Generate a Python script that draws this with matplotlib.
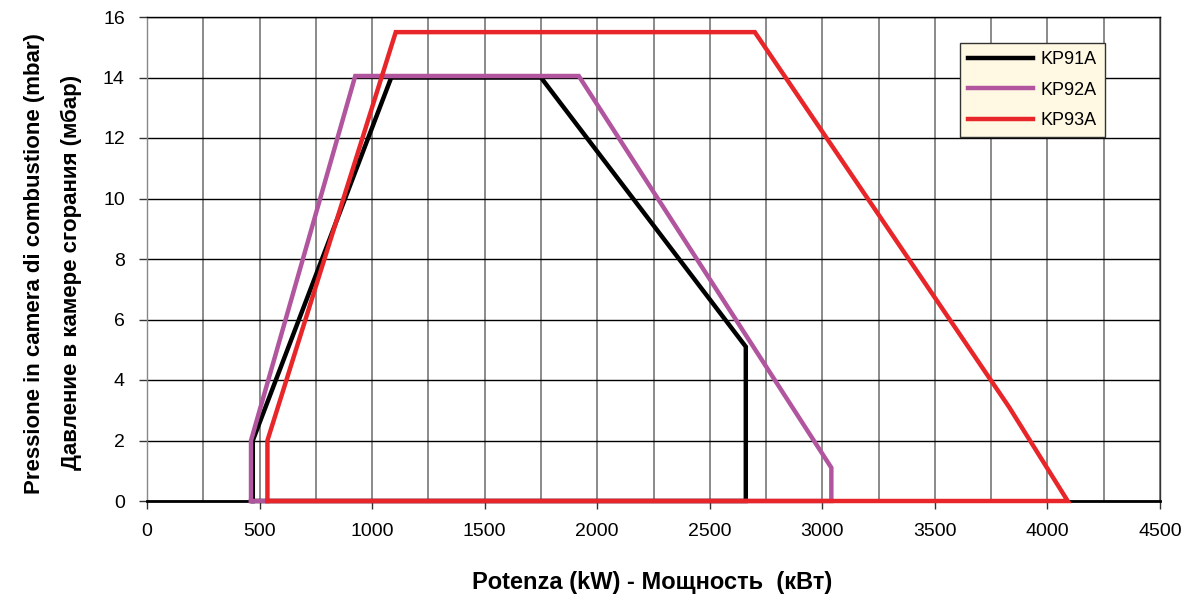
import matplotlib
matplotlib.use("Agg")
import matplotlib.pyplot as plt
from matplotlib.ticker import MultipleLocator

plt.rcParams['font.family'] = ['Liberation Sans', 'DejaVu Sans']

# Data
kp91a_x = [470, 470, 1085, 1750, 2660, 2660, 470]
kp91a_y = [0, 2, 14, 14, 5.1, 0, 0]
kp92a_x = [462, 462, 925, 1918, 3040, 3040, 462]
kp92a_y = [0, 2, 14.05, 14.05, 1.1, 0, 0]
kp93a_x = [535, 535, 1105, 2700, 3830, 4090, 535]
kp93a_y = [0, 2, 15.5, 15.5, 3.1, 0, 0]

series = [
    ("KP91A", kp91a_x, kp91a_y, "#000000"),
    ("KP92A", kp92a_x, kp92a_y, "#B1559F"),
    ("KP93A", kp93a_x, kp93a_y, "#E8262A"),
]

fig = plt.figure(figsize=(11.95, 6.03), dpi=100)
ax = fig.add_axes([147/1195, 1-501/603, (1160-147)/1195, (501-17)/603])

ax.set_xlim(0, 4500)
ax.set_ylim(0, 16)
ax.xaxis.set_major_locator(MultipleLocator(500))
ax.xaxis.set_minor_locator(MultipleLocator(250))
ax.yaxis.set_major_locator(MultipleLocator(2))

ax.grid(True, axis='x', which='both', color='#8a8a8a', lw=1.4)
ax.grid(True, axis='y', which='major', color='#000000', lw=1.0)
ax.set_axisbelow(True)

for name, xs, ys, c in series:
    ax.plot(xs, ys, color=c, lw=3.2, label=name, solid_joinstyle='miter',
            zorder=3, clip_on=False)

for s in ['left', 'right', 'top']:
    ax.spines[s].set_linewidth(1.0)
ax.spines['right'].set_color('#333333')
ax.spines['bottom'].set_color('#000000')
ax.spines['bottom'].set_linewidth(2.0)
ax.spines['left'].set_color('#888888')
ax.spines['top'].set_color('#000000')

ax.tick_params(axis='both', which='major', direction='out', length=6, width=1,
               color='#333333', labelsize=14, pad=10)
ax.tick_params(axis='x', which='minor', length=0)
ax.tick_params(axis='y', pad=10)

leg = ax.legend(loc='upper left', bbox_to_anchor=(960/1195, 1-43/603),
                bbox_transform=fig.transFigure, fontsize=13, frameon=True,
                fancybox=False, handlelength=3.6, handletextpad=0.4,
                labelspacing=0.75, borderpad=0.45, borderaxespad=0)
leg.get_frame().set_facecolor('#FFF8E3')
leg.get_frame().set_edgecolor('#333333')
leg.get_frame().set_linewidth(1.0)
leg.get_frame().set_alpha(1)
leg.set_zorder(5)

fig.text(35/1195, 1-264/603, "Pressione in camera di combustione (mbar)",
         rotation=90, ha='center', va='center', fontsize=16, fontweight='bold')
fig.text(71/1195, 1-272/603, "Давление в камере сгорания (мбар)",
         rotation=90, ha='center', va='center', fontsize=16, fontweight='bold')
fig.text(652/1195, 1-583/603, "Potenza (kW) - Мощность  (кВт)",
         ha='center', va='center', fontsize=17, fontweight='bold')

fig.savefig("out.png", dpi=100)
